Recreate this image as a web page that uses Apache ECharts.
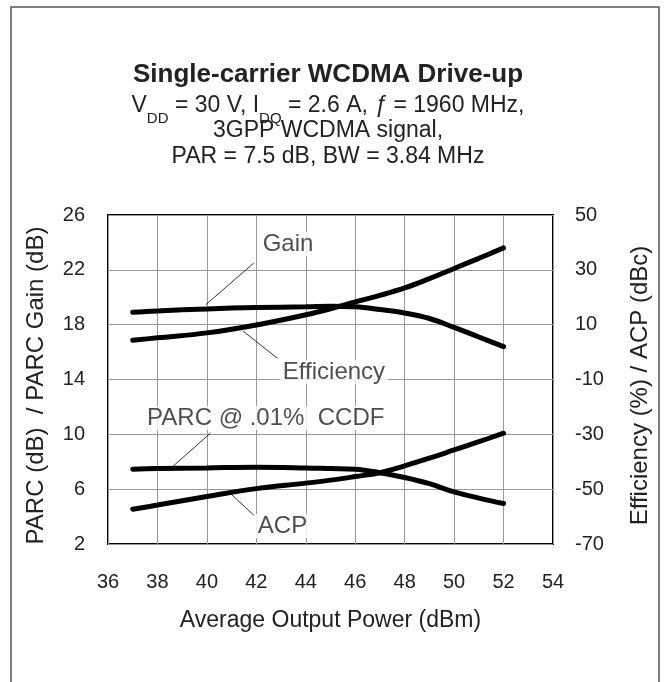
<!DOCTYPE html>
<html>
<head>
<meta charset="utf-8">
<script src="https://cdn.jsdelivr.net/npm/echarts@6/dist/echarts.min.js"></script>
<style>
html, body { margin: 0; padding: 0; background: #fff; }
#main { width: 666px; height: 682px; }
</style>
</head>
<body>
<div id="main"></div>
<script>
// 数据
var powerOut = [37, 38, 40, 42, 44, 45, 46, 47, 48, 49, 50, 51, 52];
var gainDb = [18.9, 19.0, 19.15, 19.25, 19.3, 19.35, 19.3, 19.1, 18.85, 18.45, 17.8, 17.1, 16.4];
var parcDb = [7.45, 7.5, 7.55, 7.6, 7.55, 7.5, 7.45, 7.2, 6.85, 6.4, 5.8, 5.35, 4.95];
var efficiency = [4.3, 5.2, 7.0, 9.9, 13.6, 15.8, 18.3, 20.7, 23.4, 26.8, 30.5, 34.2, 38.0];
var acp = [-57.3, -55.8, -52.7, -49.8, -47.8, -46.7, -45.4, -44.0, -41.5, -38.7, -35.7, -32.7, -29.6];

var xTicks = { min: 36, max: 54, interval: 2 };
var leftTicks = { min: 2, max: 26, interval: 4 };
var rightTicks = { min: -70, max: 50, interval: 20 };

// callout labels [x, y(left axis), text]
var callouts = [
	[43.28, 23.88, 'Gain'],
	[45.14, 14.55, 'Efficiency'],
	[42.38, 11.2, 'PARC @ .01%  CCDF'],
	[43.06, 3.32, 'ACP']
];
// leader lines [[x1, y1], [x2, y2]] on left axis
var leaders = [
	[[41.9, 22.5], [39.95, 19.45]],
	[[41.45, 17.55], [42.85, 15.55]],
	[[40.15, 10.1], [38.6, 7.62]],
	[[41.0, 5.6], [41.9, 4.1]]
];

var font = 'Liberation Sans, Arial, sans-serif';
var ink = '#222';

function pairs(xs, ys) {
	var out = [];
	for (var i = 0; i < xs.length; i++) {
		out.push([xs[i], ys[i]]);
	}
	return out;
}

function curve(name, ys, axis) {
	return {
		name: name,
		type: 'line',
		yAxisIndex: axis,
		data: pairs(powerOut, ys),
		smooth: 0.4,
		symbol: 'none',
		lineStyle: { color: '#000', width: 5, cap: 'round' },
		z: 5
	};
}

// 副标题 (subtitle lines)
var subRich = {
	n: { fontFamily: font, fontSize: 23, color: ink, lineHeight: 26, verticalAlign: 'top' },
	s: { fontFamily: font, fontSize: 15, color: ink, lineHeight: 15, verticalAlign: 'top', padding: [17, 0, 0, 0] },
	i: { fontFamily: font, fontSize: 23, fontStyle: 'italic', color: ink, lineHeight: 26, verticalAlign: 'top' }
};

function textLine(text, top, size, weight) {
	return {
		type: 'text',
		silent: true,
		x: 328,
		y: top,
		style: {
			text: text,
			align: 'center',
			verticalAlign: 'top',
			fontFamily: font,
			fontSize: size,
			fontWeight: weight,
			fill: ink,
			rich: subRich
		}
	};
}

var myChart = echarts.init(document.getElementById('main'));

var option = {
	backgroundColor: '#fff',
	animation: false,
	graphic: [{
		type: 'rect',
		silent: true,
		shape: { x: 11, y: 7, width: 648, height: 700 },
		style: { fill: 'none', stroke: '#555', lineWidth: 1.5 }
	},
		textLine('Single-carrier WCDMA Drive-up', 62, 26, 'bold'),
		textLine('{n|V}{s|DD}{n| = 30 V, I}{s|DQ}{n| = 2.6 A, }{i|ƒ}{n| = 1960 MHz,}', 94, 23, 'normal'),
		textLine('{n|3GPP WCDMA signal,}', 119, 23, 'normal'),
		textLine('{n|PAR = 7.5 dB, BW = 3.84 MHz}', 145, 23, 'normal')
	],
	grid: {
		left: 108, right: 113, top: 215, bottom: 138,
		show: true, borderColor: '#000', borderWidth: 2, backgroundColor: 'transparent'
	},
	xAxis: {
		type: 'value',
		min: xTicks.min, max: xTicks.max, interval: xTicks.interval,
		name: 'Average Output Power (dBm)',
		nameLocation: 'middle', nameGap: 65,
		nameTextStyle: { fontFamily: font, fontSize: 23, color: ink },
		axisLine: { show: false },
		axisTick: { show: false },
		axisLabel: { fontFamily: font, fontSize: 20, color: ink, margin: 28 },
		splitLine: { show: true, lineStyle: { color: '#999', width: 1 } }
	},
	yAxis: [{
		type: 'value',
		position: 'left',
		min: leftTicks.min, max: leftTicks.max, interval: leftTicks.interval,
		name: 'PARC (dB)  / PARC Gain (dB)',
		nameLocation: 'middle', nameGap: 60, nameRotate: 90,
		nameTextStyle: { fontFamily: font, fontSize: 24, color: ink, padding: [0, 12, 0, 0] },
		axisLine: { show: false },
		axisTick: { show: false },
		axisLabel: { fontFamily: font, fontSize: 20, color: ink, margin: 23 },
		splitLine: { show: true, lineStyle: { color: '#999', width: 1 } }
	}, {
		type: 'value',
		position: 'right',
		min: rightTicks.min, max: rightTicks.max, interval: rightTicks.interval,
		name: 'Efficiency (%) / ACP (dBc)',
		nameLocation: 'middle', nameGap: 75, nameRotate: 90,
		nameTextStyle: { fontFamily: font, fontSize: 24, color: ink, padding: [0, 12, 0, 0] },
		axisLine: { show: false },
		axisTick: { show: false },
		axisLabel: { fontFamily: font, fontSize: 20, color: ink, margin: 22 },
		splitLine: { show: false }
	}],
	series: [
		curve('Gain', gainDb, 0),
		curve('PARC', parcDb, 0),
		curve('Efficiency', efficiency, 1),
		curve('ACP', acp, 1),
		{
			name: 'leaders',
			type: 'line',
			yAxisIndex: 0,
			data: [],
			silent: true,
			markLine: {
				silent: true,
				symbol: ['none', 'none'],
				label: { show: false },
				lineStyle: { color: '#000', width: 0.8, type: 'solid' },
				data: leaders.map(function (l) {
					return [{ coord: l[0] }, { coord: l[1] }];
				})
			}
		},
		{
			name: 'callouts',
			type: 'scatter',
			yAxisIndex: 0,
			symbolSize: 0,
			silent: true,
			z: 10,
			data: callouts,
			label: {
				show: true,
				position: 'inside',
				formatter: function (p) { return p.value[2]; },
				fontFamily: font, fontSize: 24, color: ink,
				backgroundColor: '#fff',
				padding: [0, 3]
			}
		}
	]
};

myChart.setOption(option);
</script>
</body>
</html>
